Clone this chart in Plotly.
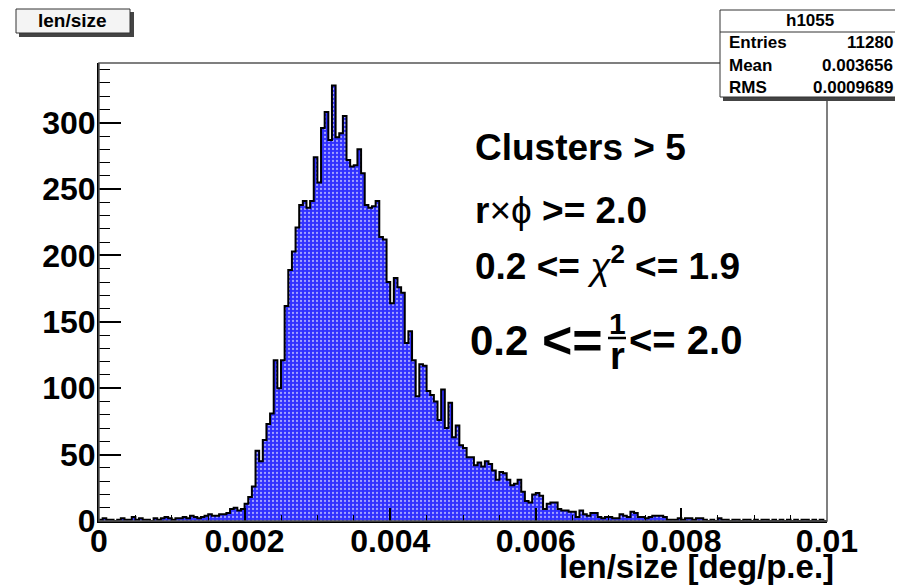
import numpy as np
import plotly.graph_objects as go

# histogram h1055: 200 bins between 0 and 0.01 (len/size)
x_min, x_max = 0.0, 0.01
counts = [
    1, 2, 1, 1, 0, 1, 2, 1, 1, 3, 1, 2, 1, 1, 0, 2, 1, 2, 3, 2,
    1, 2, 2, 3, 2, 4, 3, 2, 3, 4, 5, 4, 4, 5, 5, 6, 9, 10, 8, 9,
    13, 18, 26, 53, 45, 61, 73, 81, 121, 100, 121, 162, 189, 203, 221, 238, 241, 236, 241, 274,
    255, 296, 308, 287, 328, 289, 292, 305, 272, 267, 268, 280, 262, 238, 236, 237, 241, 214, 212, 180,
    164, 183, 176, 172, 134, 143, 121, 94, 118, 117, 98, 95, 90, 76, 99, 70, 89, 63, 72, 57,
    55, 48, 48, 42, 44, 41, 45, 43, 38, 31, 37, 36, 31, 27, 28, 31, 22, 15, 14, 20,
    21, 19, 9, 13, 14, 14, 9, 8, 8, 7, 7, 3, 8, 5, 4, 6, 6, 3, 2, 3,
    3, 2, 2, 5, 4, 3, 7, 6, 3, 3, 2, 3, 4, 4, 4, 3, 1, 1, 1, 2,
    1, 2, 2, 1, 2, 2, 1, 0, 1, 0, 2, 1, 1, 0, 1, 1, 0, 1, 1, 0,
    1, 0, 1, 1, 0, 1, 0, 1, 0, 1, 0, 1, 0, 1, 1, 0, 1, 0, 1, 0,
]
hist_name = "h1055"
hist_title = "len/size"
stats_labels = ["Entries", "Mean", "RMS"]
stats_values = ["11280", "0.003656", "0.0009689"]
x_title = "len/size [deg/p.e.]"
cut_lines = [
    "<b>Clusters > 5</b>",
    "<b>r</b>×ϕ<b> >= 2.0</b>",
    "<b>0.2 <= </b><i>χ</i><b><sup>2</sup> <= 1.9</b>",
]

# the page body has an 8px margin, so the figure starts at (8, 8) in the window
OFF = 8
W, H = 903 - OFF, 585 - OFF
L, R, T, B = 91, 76, 55, 64
PW, PH = W - L - R, H - T - B
FONT = "Liberation Sans, Arial, sans-serif"


def px(x):
    # window pixel -> paper fraction
    return (x - OFF - L) / PW


def py(y):
    return (H - B - (y - OFF)) / PH


edges = np.linspace(x_min, x_max, len(counts) + 1)
xs = np.concatenate([[x_min], edges])
ys = np.concatenate([[0], counts, [0]])

fig = go.Figure()
fig.add_trace(go.Scatter(
    x=xs, y=ys, mode="lines", line=dict(shape="hv", color="black", width=2),
    fill="tozeroy", fillcolor="#3030ff",
    fillpattern=dict(shape=".", fgcolor="white", bgcolor="#3030ff",
                     size=4, solidity=0.25, fgopacity=0.55),
    hoverinfo="skip", showlegend=False,
))

shapes = []
# plot frame
shapes.append(dict(type="rect", xref="paper", yref="paper", x0=0, x1=1, y0=0, y1=1,
                   line=dict(color="#555", width=1.5), layer="above"))
# title box with shadow
shapes.append(dict(type="rect", xref="paper", yref="paper", x0=px(19), x1=px(134),
                   y0=py(37), y1=py(12), fillcolor="#444", line=dict(width=0)))
shapes.append(dict(type="rect", xref="paper", yref="paper", x0=px(16), x1=px(130),
                   y0=py(33), y1=py(9), fillcolor="#f4f4f4", line=dict(color="#333", width=1)))
# stats box with shadow
shapes.append(dict(type="rect", xref="paper", yref="paper", x0=px(723), x1=px(903),
                   y0=py(101), y1=py(13), fillcolor="#444", line=dict(width=0)))
shapes.append(dict(type="rect", xref="paper", yref="paper", x0=px(720), x1=px(899),
                   y0=py(97), y1=py(10), fillcolor="white", line=dict(color="#333", width=1)))
shapes.append(dict(type="line", xref="paper", yref="paper", x0=px(720), x1=px(899),
                   y0=py(32), y1=py(32), line=dict(color="#333", width=1)))
# fraction bar of 1/r
shapes.append(dict(type="line", xref="paper", yref="paper", x0=px(608), x1=px(626),
                   y0=py(338), y1=py(338), line=dict(color="black", width=2.5)))

ann = []


def add_text(text, x, y, size, xanchor="left", yanchor="middle"):
    ann.append(dict(text=text, x=px(x), y=py(y), xref="paper", yref="paper",
                    xanchor=xanchor, yanchor=yanchor, showarrow=False,
                    font=dict(family=FONT, size=size, color="black")))


add_text("<b>" + hist_title + "</b>", 72, 21, 19, xanchor="center")
add_text("<b>" + hist_name + "</b>", 810, 21, 17, xanchor="center")
for i, (lab, val) in enumerate(zip(stats_labels, stats_values)):
    yy = 43 + 22 * i
    add_text("<b>" + lab + "</b>", 727, yy, 17)
    add_text("<b>" + val + "</b>", 895, yy, 17, xanchor="right")

cut_y = [147, 210, 263]
for txt, yy in zip(cut_lines, cut_y):
    add_text(txt, 473, yy, 37)
add_text("<b>0.2</b>", 468, 340, 42)
add_text("<b><=</b>", 605, 340, 52, xanchor="right")
add_text("<b>1</b>", 617, 323, 30, xanchor="center")
add_text("<b>r</b>", 617, 356, 38, xanchor="center")
add_text("<b><= 2.0</b>", 627, 340, 40)
add_text("<b>" + x_title + "</b>", 836, 566, 33, xanchor="right")

tickfont = dict(family=FONT, size=32, color="black", weight="bold")
fig.update_layout(
    width=W, height=H, margin=dict(l=L, r=R, t=T, b=B),
    paper_bgcolor="white", plot_bgcolor="white",
    shapes=shapes, annotations=ann,
    xaxis=dict(range=[x_min, x_max], tick0=0, dtick=0.002, ticks="inside", ticklen=13,
               tickwidth=1.5, tickcolor="black", showgrid=False, zeroline=False,
               showline=True, linecolor="black", linewidth=2, tickfont=tickfont,
               ticklabelstandoff=-9,
               minor=dict(dtick=0.0005, ticks="inside", ticklen=6, tickwidth=1, tickcolor="black")),
    yaxis=dict(range=[0, 345], tick0=0, dtick=50, ticks="inside", ticklen=22,
               tickwidth=1.5, tickcolor="black", showgrid=False, zeroline=False,
               showline=True, linecolor="black", linewidth=2, tickfont=tickfont,
               ticklabelstandoff=-5,
               minor=dict(dtick=10, ticks="inside", ticklen=11, tickwidth=1, tickcolor="black")),
)

fig.write_html("out.html")
